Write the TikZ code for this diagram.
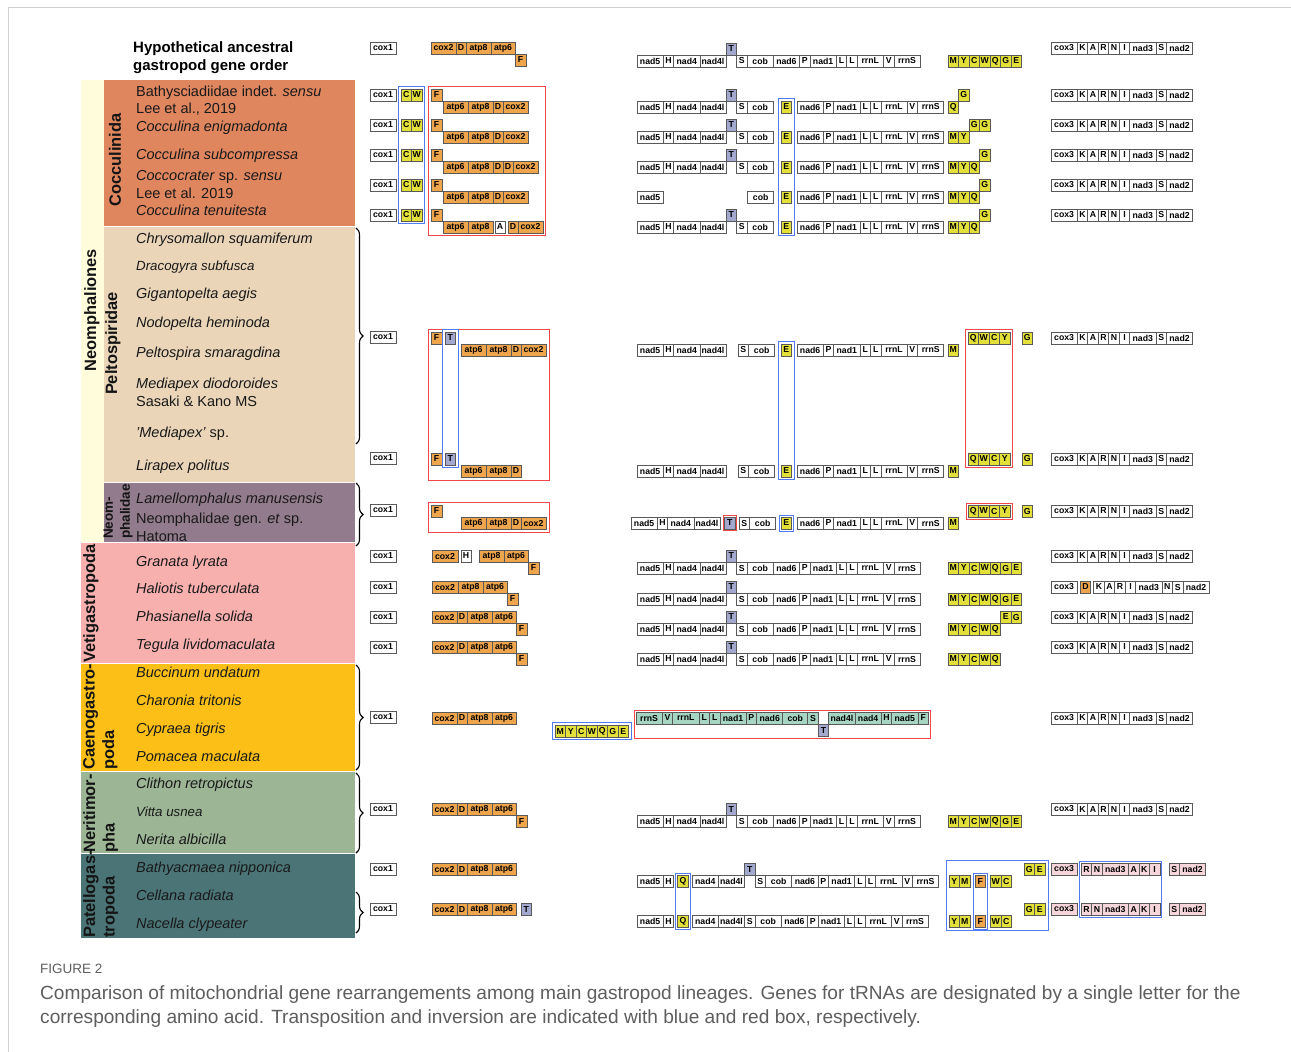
\documentclass[tikz,border=0pt]{standalone}
\usepackage{fontspec}
\setmainfont{Liberation Sans}
\usetikzlibrary{fit,decorations.pathreplacing}
\definecolor{cOr}{HTML}{EFA54C}
\definecolor{cYe}{HTML}{E4E03A}
\definecolor{cTb}{HTML}{A3A8CF}
\definecolor{cGn}{HTML}{A6D6C3}
\definecolor{cPk}{HTML}{F6D6DA}
\definecolor{cBl}{HTML}{4F7CF5}
\definecolor{cRd}{HTML}{F04848}
\definecolor{bPale}{HTML}{FFFCDC}
\definecolor{bCocc}{HTML}{E0865F}
\definecolor{bPelt}{HTML}{EAD5B8}
\definecolor{bNeom}{HTML}{927B8C}
\definecolor{bVeti}{HTML}{F8B0AF}
\definecolor{bCaen}{HTML}{FBBF17}
\definecolor{bNeri}{HTML}{9BB595}
\definecolor{bPate}{HTML}{4B7476}
\definecolor{capgray}{HTML}{5E5E5E}
\tikzset{
  gb/.style={draw=black!65, line width=0.7pt, minimum height=12pt, inner sep=0pt, outer sep=0pt,
    font=\fontsize{8.7}{9.5}\selectfont\bfseries, text=black, anchor=west},
  gw/.style={fill=white},
  go/.style={fill=cOr},
  gy/.style={fill=cYe},
  gt/.style={fill=cTb},
  ggn/.style={fill=cGn},
  gpk/.style={fill=cPk},
  gsp/.style={draw=none, fill=none},
  tbox/.style={draw=cBl, line width=1pt, inner sep=2.5pt},
  ibox/.style={draw=cRd, line width=1pt, inner sep=2.5pt},
  taxon/.style={anchor=base west, inner sep=0pt, font=\fontsize{14.5}{17}\selectfont, text=black!90},
  taxsm/.style={taxon, font=\fontsize{13.3}{16}\selectfont},
  grp/.style={font=\fontsize{16.4}{19.5}\selectfont\bfseries, inner sep=0pt, text=black!92},
  brc/.style={decorate, decoration={brace, amplitude=7pt}, line width=1.1pt},
}
\newcommand\generow[3]{%
  \node[inner sep=0pt,outer sep=0pt,minimum size=0pt] (#1-0) at #2 {};%
  \edef\grlist{#3}%
  \foreach \gwd/\gl/\gs [count=\gk, remember=\gk as \gpk (initially 0)] in \grlist {%
    \node[gb,\gs,minimum width=\gwd pt] (#1-\gk) at (#1-\gpk.east) {\gl};%
  }%
}
\def\NADfull{26.2/nad5/gw,10.5/H/gw,26.2/nad4/gw,26.2/nad4l/gw,10.5/{}/gsp,10.5/S/gw,26.2/cob/gw}
\def\NADsix{26.2/nad6/gw,10.5/P/gw,26.2/nad1/gw,10.5/L/gw,10.5/L/gw,26.2/rrnL/gw,10.5/V/gw,26.2/rrnS/gw}
\def\COXthree{26.2/cox3/gw,10.5/K/gw,10.5/A/gw,10.5/R/gw,10.5/N/gw,10.5/I/gw,26.2/nad3/gw,10.5/S/gw,26.2/nad2/gw}
\def\MYCWQGE{10.5/M/gy,10.5/Y/gy,10.5/C/gy,10.5/W/gy,10.5/Q/gy,10.5/G/gy,10.5/E/gy}
\def\MYCWQ{10.5/M/gy,10.5/Y/gy,10.5/C/gy,10.5/W/gy,10.5/Q/gy}
\def\ORfour{25/cox2/go,10/D/go,25/atp8/go,24/atp6/go}
\def\PELw{26.2/nad5/gw,10.5/H/gw,26.2/nad4/gw,26.2/nad4l/gw,12/{}/gsp,10.5/S/gw,26.2/cob/gw}
\def\PKrow{26.2/cox3/gpk,4/{}/gsp,10.5/R/gpk,10.5/N/gpk,26.2/nad3/gpk,10.5/A/gpk,10.5/K/gpk,10.5/I/gpk,9/{}/gsp,10.5/S/gpk,26.2/nad2/gpk}
\def\YMFWC{10.5/Y/gy,10.5/M/gy,5/{}/gsp,10.5/F/go,5/{}/gsp,10.5/W/gy,10.5/C/gy}
\begin{document}
\begin{tikzpicture}[x=1pt,y=-1pt]
\useasboundingbox (0,0) rectangle (1291,1052);
\fill[white] (0,0) rectangle (1291,1052);
\draw[black!18, line width=0.8pt] (8,1052) -- (8,7) -- (1291,7);

% ---------------- bands
\fill[bPale] (81,80) rectangle (104,542);
\fill[bCocc] (104,80) rectangle (355,226);
\fill[bPelt] (104,227) rectangle (355,482);
\fill[bNeom] (104,482.5) rectangle (355,542);
\fill[bVeti] (81,543) rectangle (355,663);
\fill[bCaen] (81,664) rectangle (355,771);
\fill[bNeri] (81,772) rectangle (355,853);
\fill[bPate] (81,854) rectangle (355,938);

% ---------------- group labels
\node[grp, rotate=90] (lCocc) at (115,160) {Cocculinida};
\node[grp, rotate=90] (lNeomp) at (92,310) {Neomphaliones};
\node[grp, rotate=90] (lPelt) at (113,343.5) {Peltospiridae};
\node[grp, rotate=90, anchor=north west, align=left, font=\fontsize{13.5}{17}\selectfont\bfseries] (lNeom) at (103.5,539) {Neom-\\phalidae};
\node[grp, rotate=90, anchor=north west] (lVeti) at (83,663) {Vetigastropoda};
\node[grp, rotate=90, anchor=north west, align=left] (lCaen) at (83,770) {Caenogastro-\\poda};
\node[grp, rotate=90, anchor=north west, align=left] (lNeri) at (83,853) {Neritimor-\\pha};
\node[grp, rotate=90, anchor=north west, align=left] (lPate) at (83,938) {Patellogas-\\tropoda};

% ---------------- header
\node[anchor=base west, inner sep=0pt, align=left, font=\fontsize{15}{18}\selectfont\bfseries] (hdr1) at (133,52) {Hypothetical ancestral};
\node[anchor=base west, inner sep=0pt, font=\fontsize{15}{18}\selectfont\bfseries] (hdr2) at (133,70) {gastropod gene order};

% ---------------- taxa
\node[taxon] (t1) at (136,96) {Bathysciadiidae indet. \textit{sensu}};
\node[taxon] (t1b) at (136,113.5) {Lee et al., 2019};
\node[taxon] (t2) at (136,131) {\textit{Cocculina enigmadonta}};
\node[taxon] (t3) at (136,159) {\textit{Cocculina subcompressa}};
\node[taxon] (t4) at (136,180) {\textit{Coccocrater} sp. \textit{sensu}};
\node[taxon] (t4b) at (136,198) {Lee et al. 2019};
\node[taxon] (t5) at (136,215) {\textit{Cocculina tenuitesta}};
\node[taxon] (t6) at (136,243) {\textit{Chrysomallon squamiferum}};
\node[taxsm] (t7) at (136,270) {\textit{Dracogyra subfusca}};
\node[taxon] (t8) at (136,298) {\textit{Gigantopelta aegis}};
\node[taxon] (t9) at (136,327) {\textit{Nodopelta heminoda}};
\node[taxon] (t10) at (136,357) {\textit{Peltospira smaragdina}};
\node[taxon] (t11) at (136,388.5) {\textit{Mediapex diodoroides}};
\node[taxon] (t11b) at (136,406.5) {Sasaki \& Kano MS};
\node[taxon] (t12) at (136,437) {\textit{'Mediapex'} sp.};
\node[taxon] (t13) at (136,470) {\textit{Lirapex politus}};
\node[taxon] (t14) at (136,503) {\textit{Lamellomphalus manusensis}};
\node[taxon] (t15) at (136,523.5) {Neomphalidae gen. \textit{et} sp.};
\node[taxon] (t15b) at (136,541) {Hatoma};
\node[taxon] (t16) at (136,566) {\textit{Granata lyrata}};
\node[taxon] (t17) at (136,593.5) {\textit{Haliotis tuberculata}};
\node[taxon] (t18) at (136,621.5) {\textit{Phasianella solida}};
\node[taxon] (t19) at (136,649.5) {\textit{Tegula lividomaculata}};
\node[taxon] (t20) at (136,677.5) {\textit{Buccinum undatum}};
\node[taxon] (t21) at (136,705) {\textit{Charonia tritonis}};
\node[taxon] (t22) at (136,733) {\textit{Cypraea tigris}};
\node[taxon] (t23) at (136,761) {\textit{Pomacea maculata}};
\node[taxon] (t24) at (136,788.5) {\textit{Clithon retropictus}};
\node[taxsm] (t25) at (136,816.5) {\textit{Vitta usnea}};
\node[taxon] (t26) at (136,844) {\textit{Nerita albicilla}};
\node[taxon] (t27) at (136,872.5) {\textit{Bathyacmaea nipponica}};
\node[taxon] (t28) at (136,900) {\textit{Cellana radiata}};
\node[taxon] (t29) at (136,928) {\textit{Nacella clypeater}};

% ---------------- braces
\draw[brc] (356,228) -- (356,444);
\draw[brc] (356,483) -- (356,546);
\draw[brc] (356,665) -- (356,770);
\draw[brc] (356,773) -- (356,853);
\draw[brc] (356,892) -- (356,933);

% ---------------- row 0 (ancestral)
\generow{r0c}{(370,48)}{26/cox1/gw}
\generow{r0o}{(431,48)}{\ORfour}
\generow{r0f}{([yshift=-6pt]r0o-4.south east)}{11/F/go}
\generow{r0w}{(637,61)}{\NADfull,\NADsix}
\generow{r0t}{([yshift=6pt]r0w-5.north west)}{10.5/T/gt}
\generow{r0y}{(948,61)}{\MYCWQGE}
\generow{r0x}{(1051,48)}{\COXthree}

% ---------------- Cocculinida
\generow{c1c}{(370,95)}{26/cox1/gw}
\generow{c1y}{(401,95)}{10.5/C/gy,10.5/W/gy}
\generow{c1f}{(431,95)}{11/F/go}
\generow{c1o}{(443,107)}{25/atp6/go,25/atp8/go,10/D/go,25/cox2/go}
\generow{c1w}{(637,107)}{\NADfull}
\generow{c1t}{([yshift=6pt]c1w-5.north west)}{10.5/T/gt}
\generow{c1e}{(781,107)}{10.5/E/gy}
\generow{c1n}{(797,107)}{\NADsix}
\generow{c1q}{(948,107)}{10.5/Q/gy}
\generow{c1g}{([yshift=6pt]c1q-1.north east)}{10.5/G/gy}
\generow{c1x}{(1051,95)}{\COXthree}

\generow{c2c}{(370,125)}{26/cox1/gw}
\generow{c2y}{(401,125)}{10.5/C/gy,10.5/W/gy}
\generow{c2f}{(431,125)}{11/F/go}
\generow{c2o}{(443,137)}{25/atp6/go,25/atp8/go,10/D/go,25/cox2/go}
\generow{c2w}{(637,137)}{\NADfull}
\generow{c2t}{([yshift=6pt]c2w-5.north west)}{10.5/T/gt}
\generow{c2e}{(781,137)}{10.5/E/gy}
\generow{c2n}{(797,137)}{\NADsix}
\generow{c2q}{(948,137)}{10.5/M/gy,10.5/Y/gy}
\generow{c2g}{([yshift=6pt]c2q-2.north east)}{10.5/G/gy,10.5/G/gy}
\generow{c2x}{(1051,125)}{\COXthree}

\generow{c3c}{(370,155)}{26/cox1/gw}
\generow{c3y}{(401,155)}{10.5/C/gy,10.5/W/gy}
\generow{c3f}{(431,155)}{11/F/go}
\generow{c3o}{(443,167)}{25/atp6/go,25/atp8/go,10/D/go,10/D/go,25/cox2/go}
\generow{c3w}{(637,167)}{\NADfull}
\generow{c3t}{([yshift=6pt]c3w-5.north west)}{10.5/T/gt}
\generow{c3e}{(781,167)}{10.5/E/gy}
\generow{c3n}{(797,167)}{\NADsix}
\generow{c3q}{(948,167)}{10.5/M/gy,10.5/Y/gy,10.5/Q/gy}
\generow{c3g}{([yshift=6pt]c3q-3.north east)}{10.5/G/gy}
\generow{c3x}{(1051,155)}{\COXthree}

\generow{c4c}{(370,185)}{26/cox1/gw}
\generow{c4y}{(401,185)}{10.5/C/gy,10.5/W/gy}
\generow{c4f}{(431,185)}{11/F/go}
\generow{c4o}{(443,197)}{25/atp6/go,25/atp8/go,10/D/go,25/cox2/go}
\generow{c4w}{(637,197)}{26.2/nad5/gw,84.4/{}/gsp,26.2/cob/gw}
\generow{c4e}{(781,197)}{10.5/E/gy}
\generow{c4n}{(797,197)}{\NADsix}
\generow{c4q}{(948,197)}{10.5/M/gy,10.5/Y/gy,10.5/Q/gy}
\generow{c4g}{([yshift=6pt]c4q-3.north east)}{10.5/G/gy}
\generow{c4x}{(1051,185)}{\COXthree}

\generow{c5c}{(370,215)}{26/cox1/gw}
\generow{c5y}{(401,215)}{10.5/C/gy,10.5/W/gy}
\generow{c5f}{(431,215)}{11/F/go}
\generow{c5o}{(443,227)}{25/atp6/go,25/atp8/go,2/{}/gsp,10/A/gw,3/{}/gsp,10/D/go,25/cox2/go}
\generow{c5w}{(637,227)}{\NADfull}
\generow{c5t}{([yshift=6pt]c5w-5.north west)}{10.5/T/gt}
\generow{c5e}{(781,227)}{10.5/E/gy}
\generow{c5n}{(797,227)}{\NADsix}
\generow{c5q}{(948,227)}{10.5/M/gy,10.5/Y/gy,10.5/Q/gy}
\generow{c5g}{([yshift=6pt]c5q-3.north east)}{10.5/G/gy}
\generow{c5x}{(1051,215)}{\COXthree}

\node[tbox, fit=(c1y-1)(c5y-2)] (bxCW) {};
\node[ibox, fit=(c1f-1)(c5o-7)(c3o-5)] (bxCF) {};
\node[tbox, fit=(c1e-1)(c5e-1)] (bxCE) {};

% ---------------- Peltospiridae
\generow{pAc}{(370,337)}{26/cox1/gw}
\generow{pAf}{(431,338)}{11/F/go}
\generow{pAt}{(445,338)}{10.5/T/gt}
\generow{pAo}{(461,350)}{25/atp6/go,25/atp8/go,10/D/go,25/cox2/go}
\generow{pAw}{(637,350)}{\PELw}
\generow{pAe}{(781,350)}{10.5/E/gy}
\generow{pAn}{(797,350)}{\NADsix}
\generow{pAm}{(948,350)}{10.5/M/gy}
\generow{pAq}{(968,338)}{10.5/Q/gy,10.5/W/gy,10.5/C/gy,10.5/Y/gy}
\generow{pAg}{(1022,338)}{10.5/G/gy}
\generow{pAx}{(1051,338)}{\COXthree}

\generow{pBc}{(370,458)}{26/cox1/gw}
\generow{pBf}{(431,459)}{11/F/go}
\generow{pBt}{(445,459)}{10.5/T/gt}
\generow{pBo}{(461,471)}{25/atp6/go,25/atp8/go,10/D/go}
\generow{pBw}{(637,471)}{\PELw}
\generow{pBe}{(781,471)}{10.5/E/gy}
\generow{pBn}{(797,471)}{\NADsix}
\generow{pBm}{(948,471)}{10.5/M/gy}
\generow{pBq}{(968,459)}{10.5/Q/gy,10.5/W/gy,10.5/C/gy,10.5/Y/gy}
\generow{pBg}{(1022,459)}{10.5/G/gy}
\generow{pBx}{(1051,459)}{\COXthree}

\node[ibox, inner sep=3pt, fit=(pAf-1)(pAo-4)(pBo-3)] (bxPF) {};
\node[tbox, fit=(pAt-1)(pBt-1)] (bxPT) {};
\node[tbox, fit=(pAe-1)(pBe-1)] (bxPE) {};
\node[ibox, fit=(pAq-1)(pBq-4)] (bxPQ) {};

% ---------------- Neomphalidae
\generow{nCc}{(370,510)}{26/cox1/gw}
\generow{nCf}{(431,511)}{11/F/go}
\generow{nCo}{(461,523)}{25/atp6/go,25/atp8/go,10/D/go,25/cox2/go}
\generow{nCw}{(631,523)}{26.2/nad5/gw,10.5/H/gw,26.2/nad4/gw,26.2/nad4l/gw,4.5/{}/gsp,10.5/T/gt,4/{}/gsp,10.5/S/gw,26.2/cob/gw}
\generow{nCe}{(781,523)}{10.5/E/gy}
\generow{nCn}{(797,523)}{\NADsix}
\generow{nCm}{(948,523)}{10.5/M/gy}
\generow{nCq}{(968,511)}{10.5/Q/gy,10.5/W/gy,10.5/C/gy,10.5/Y/gy}
\generow{nCg}{(1022,511)}{10.5/G/gy}
\generow{nCx}{(1051,511)}{\COXthree}

\node[ibox, inner sep=3pt, fit=(nCf-1)(nCo-4)] (bxNF) {};
\node[ibox, inner sep=1.5pt, fit=(nCw-6)] (bxNT) {};
\node[tbox, inner sep=2pt, fit=(nCe-1)] (bxNE) {};
\node[ibox, inner sep=2pt, fit=(nCq-1)(nCq-4)] (bxNQ) {};

% ---------------- Vetigastropoda
\generow{v1c}{(370,556)}{26/cox1/gw}
\generow{v1o}{(432,556)}{26/cox2/go,3/{}/gsp,10/H/gw,8/{}/gsp,25/atp8/go,24/atp6/go}
\generow{v1f}{([yshift=-6pt]v1o-6.south east)}{11/F/go}
\generow{v1w}{(637,568)}{\NADfull,\NADsix}
\generow{v1t}{([yshift=6pt]v1w-5.north west)}{10.5/T/gt}
\generow{v1y}{(948,568)}{\MYCWQGE}
\generow{v1x}{(1051,556)}{\COXthree}

\generow{v2c}{(370,587)}{26/cox1/gw}
\generow{v2o}{(432,587)}{26/cox2/go,25/atp8/go,24/atp6/go}
\generow{v2f}{([yshift=-6pt]v2o-3.south east)}{11/F/go}
\generow{v2w}{(637,599)}{\NADfull,\NADsix}
\generow{v2t}{([yshift=6pt]v2w-5.north west)}{10.5/T/gt}
\generow{v2y}{(948,599)}{\MYCWQGE}
\generow{v2x}{(1051,587)}{26.2/cox3/gw,3/{}/gsp,10.5/D/go,3/{}/gsp,10.5/K/gw,10.5/A/gw,10.5/R/gw,10.5/I/gw,26.2/nad3/gw,10.5/N/gw,10.5/S/gw,26.2/nad2/gw}

\generow{v3c}{(370,617)}{26/cox1/gw}
\generow{v3o}{(432,617)}{\ORfour}
\generow{v3f}{([yshift=-6pt]v3o-4.south east)}{11/F/go}
\generow{v3w}{(637,629)}{\NADfull,\NADsix}
\generow{v3t}{([yshift=6pt]v3w-5.north west)}{10.5/T/gt}
\generow{v3y}{(948,629)}{\MYCWQ}
\generow{v3g}{([yshift=6pt]v3y-5.north east)}{10.5/E/gy,10.5/G/gy}
\generow{v3x}{(1051,617)}{\COXthree}

\generow{v4c}{(370,647)}{26/cox1/gw}
\generow{v4o}{(432,647)}{\ORfour}
\generow{v4f}{([yshift=-6pt]v4o-4.south east)}{11/F/go}
\generow{v4w}{(637,659)}{\NADfull,\NADsix}
\generow{v4t}{([yshift=6pt]v4w-5.north west)}{10.5/T/gt}
\generow{v4y}{(948,659)}{\MYCWQ}
\generow{v4x}{(1051,647)}{\COXthree}

% ---------------- Caenogastropoda
\generow{kc}{(370,717)}{26/cox1/gw}
\generow{ko}{(432,718)}{\ORfour}
\generow{ky}{(555,731)}{\MYCWQGE}
\generow{kg}{(636,718)}{26.2/rrnS/ggn,10.5/V/ggn,26.2/rrnL/ggn,10.5/L/ggn,10.5/L/ggn,26.2/nad1/ggn,10.5/P/ggn,26.2/nad6/ggn,25/cob/ggn,10.5/S/ggn,10.5/{}/gsp,26.2/nad4l/ggn,26.2/nad4/ggn,10.5/H/ggn,26.2/nad5/ggn,10.5/F/ggn}
\generow{kt}{([yshift=-6pt]kg-11.south west)}{10.5/T/gt}
\generow{kx}{(1051,718)}{\COXthree}
\node[tbox, fit=(ky-1)(ky-7)] (bxKY) {};
\node[ibox, inner sep=2pt, fit=(kg-1)(kg-16)(kt-1)] (bxKG) {};

% ---------------- Neritimorpha
\generow{ec}{(370,809)}{26/cox1/gw}
\generow{eo}{(432,809)}{\ORfour}
\generow{ef}{([yshift=-6pt]eo-4.south east)}{11/F/go}
\generow{ew}{(637,821)}{\NADfull,\NADsix}
\generow{et}{([yshift=6pt]ew-5.north west)}{10.5/T/gt}
\generow{ey}{(948,821)}{\MYCWQGE}
\generow{ex}{(1051,809)}{\COXthree}

% ---------------- Patellogastropoda
\generow{q1c}{(370,869)}{26/cox1/gw}
\generow{q1o}{(432,869)}{\ORfour}
\generow{q1w}{(637,881)}{26.2/nad5/gw,10.5/H/gw,4/{}/gsp,10.5/Q/gy,4/{}/gsp,26.2/nad4/gw,26.2/nad4l/gw,10.5/{}/gsp,10.5/S/gw,26.2/cob/gw,\NADsix}
\generow{q1t}{([yshift=6pt]q1w-8.north west)}{10.5/T/gt}
\generow{q1y}{(949,881)}{\YMFWC}
\generow{q1g}{(1024,869)}{10.5/G/gy,10.5/E/gy}
\generow{q1x}{(1051,869)}{\PKrow}

\generow{q2c}{(370,909)}{26/cox1/gw}
\generow{q2o}{(432,909)}{\ORfour,5/{}/gsp,10.5/T/gt}
\generow{q2w}{(637,921)}{26.2/nad5/gw,10.5/H/gw,4/{}/gsp,10.5/Q/gy,4/{}/gsp,26.2/nad4/gw,26.2/nad4l/gw,10.5/S/gw,26.2/cob/gw,\NADsix}
\generow{q2y}{(949,921)}{\YMFWC}
\generow{q2g}{(1024,909)}{10.5/G/gy,10.5/E/gy}
\generow{q2x}{(1051,909)}{\PKrow}

\node[tbox, inner sep=2pt, fit=(q1w-4)(q2w-4)] (bxQQ) {};
\node[tbox, inner sep=2pt, fit=(q1y-4)(q2y-4)] (bxQF) {};
\node[tbox, inner sep=3pt, fit=(q1y-1)(q2y-7)(q1g-2)] (bxQB) {};
\node[tbox, inner sep=2pt, fit=(q1x-3)(q2x-8)] (bxQR) {};

% ---------------- caption
\node[anchor=base west, inner sep=0pt, font=\fontsize{13.5}{16}\selectfont, text=capgray] (figlab) at (40,973) {FIGURE 2};
\node[anchor=base west, inner sep=0pt, font=\fontsize{19.1}{22}\selectfont, text=capgray] (cap1) at (40,999) {Comparison of mitochondrial gene rearrangements among main gastropod lineages. Genes for tRNAs are designated by a single letter for the};
\node[anchor=base west, inner sep=0pt, font=\fontsize{19.1}{22}\selectfont, text=capgray] (cap2) at (40,1023) {corresponding amino acid. Transposition and inversion are indicated with blue and red box, respectively.};
\end{tikzpicture}
\end{document}
